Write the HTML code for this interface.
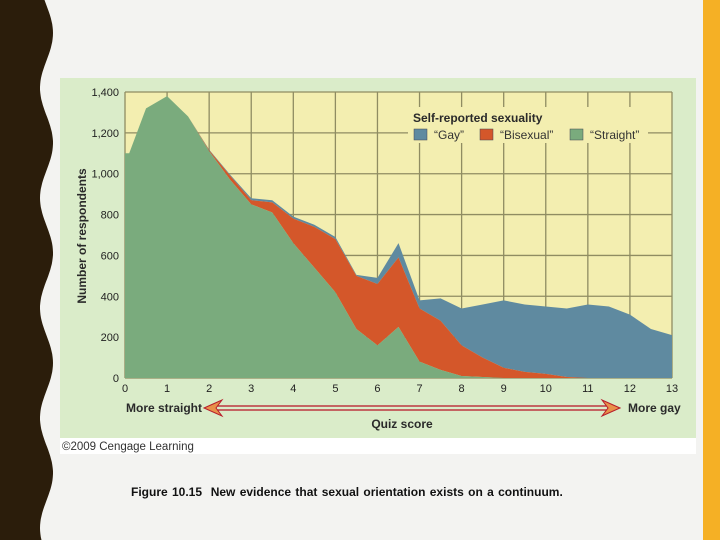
<!DOCTYPE html>
<html><head><meta charset="utf-8"><style>
body{margin:0;width:720px;height:540px;background:#f3f3f1;overflow:hidden;position:relative;font-family:"Liberation Sans",sans-serif}
</style></head><body>
<svg width="60" height="540" style="position:absolute;left:0;top:0">
<path id="wave" fill="#2b1d0b" d=""/>
</svg>
<div style="position:absolute;left:703px;top:0;width:17px;height:540px;background:#f5b025"></div>
<svg id="chart" width="720" height="540" style="position:absolute;left:0;top:0" font-family="Liberation Sans, sans-serif"></svg>
<div style="position:absolute;left:131px;top:485px;font-size:12px;font-weight:bold;color:#111;word-spacing:1px">Figure 10.15&nbsp; New evidence that sexual orientation exists on a continuum.</div>
<script>
(function(){let d='M0,0';for(let y=0;y<=540;y+=3){d+=' L'+(46.5+6.5*Math.cos(2*Math.PI*(y-33)/110)).toFixed(1)+','+y;}d+=' L0,540Z';document.getElementById('wave').setAttribute('d',d);})();
const xs=[0,0.1,0.5,1,1.5,2,2.5,3,3.5,4,4.5,5,5.5,6,6.5,7,7.5,8,8.5,9,9.5,10,10.5,11,11.5,12,12.5,13];
const straight=[1100,1100,1320,1380,1280,1110,970,850,810,660,540,420,240,160,250,80,40,10,5,0,0,0,0,0,0,0,0,0];
const bisexual=[0,0,0,0,0,5,20,20,50,120,200,260,260,300,340,260,240,150,95,50,30,20,5,0,0,0,0,0];
const gay=[0,0,0,0,0,3,5,10,10,10,10,10,5,30,70,40,110,180,260,330,330,330,335,360,350,310,240,210];
const yTicks=[0,200,400,600,800,1000,1200,1400];
const xTicks=[0,1,2,3,4,5,6,7,8,9,10,11,12,13];
const NS='http://www.w3.org/2000/svg';
const svg=document.getElementById('chart');
const X0=125,X1=672,Y0=378,Y1=92;
const sx=v=>X0+(X1-X0)*v/13, sy=v=>Y0-(Y0-Y1)*v/1400;
function mk(t,a,p){const e=document.createElementNS(NS,t);for(const k in a)e.setAttribute(k,a[k]);(p||svg).appendChild(e);return e;}
let e;
e=mk('rect',{x:60,y:78,width:636,height:360,fill:'#daecc9'});

e=mk('rect',{x:60,y:438,width:636,height:16,fill:'#ffffff'});

e=mk('rect',{x:X0,y:Y1,width:X1-X0,height:Y0-Y1,fill:'#f3eeb0'});

yTicks.forEach(v=>{e=mk('line',{x1:X0,x2:X1,y1:sy(v),y2:sy(v),stroke:'#8f8c62','stroke-width':1.3});

e=mk('text',{x:119,y:sy(v)+4,'text-anchor':'end','font-size':11,fill:'#222'});e.textContent=v.toLocaleString('en-US');
});
xTicks.forEach(v=>{e=mk('line',{x1:sx(v),x2:sx(v),y1:Y1,y2:Y0,stroke:'#8f8c62','stroke-width':1.3});

e=mk('text',{x:sx(v),y:392,'text-anchor':'middle','font-size':11,fill:'#222'});e.textContent=v;
});
const c1=straight, c2=straight.map((v,i)=>v+bisexual[i]), c3=c2.map((v,i)=>v+gay[i]);
function area(top,bot,fill,name){let d='M'+xs.map((x,i)=>sx(x)+','+sy(top[i])).join(' L');
for(let i=xs.length-1;i>=0;i--)d+=' L'+sx(xs[i])+','+sy(bot[i]);
e=mk('path',{d:d+'Z',fill:fill});}
const zero=xs.map(()=>0);
area(c3,c2,'#5f8aa0','area-gay');
area(c2,c1,'#d4572a','area-bisexual');
area(c1,zero,'#7aab7d','area-straight');
e=mk('rect',{x:408,y:107,width:240,height:36,fill:'#f3eeb0'});

e=mk('text',{x:413,y:122,'font-size':12,'font-weight':'bold',fill:'#2a2a2a'});e.textContent='Self-reported sexuality';

[['“Gay”','#5f8aa0',414,'legend-entry-gay'],['“Bisexual”','#d4572a',480,'legend-entry-bisexual'],['“Straight”','#7aab7d',570,'legend-entry-straight']].forEach(l=>{
e=mk('rect',{x:l[2],y:129,width:13,height:11,fill:l[1],stroke:'#445','stroke-width':0.5});

e=mk('text',{x:l[2]+20,y:139,'font-size':12,fill:'#333'});e.textContent=l[0];
});
e=mk('text',{x:0,y:0,'font-size':12,'font-weight':'bold',fill:'#2a2a2a','text-anchor':'middle',transform:'translate(86,236) rotate(-90)'});e.textContent='Number of respondents';

e=mk('text',{x:126,y:412,'font-size':12,'font-weight':'bold',fill:'#2a2a2a'});e.textContent='More straight';

e=mk('text',{x:628,y:412,'font-size':12,'font-weight':'bold',fill:'#2a2a2a'});e.textContent='More gay';

e=mk('text',{x:402,y:428,'font-size':12,'font-weight':'bold',fill:'#2a2a2a','text-anchor':'middle'});e.textContent='Quiz score';

e=mk('rect',{x:212,y:406,width:396,height:4,fill:'none',stroke:'#b81c2a','stroke-width':1.3});

e=mk('path',{d:'M204,408 L222,400 L216,408 L222,416Z',fill:'#e8904a',stroke:'#b81c2a','stroke-width':1});

e=mk('path',{d:'M620,408 L602,400 L608,408 L602,416Z',fill:'#e8904a',stroke:'#b81c2a','stroke-width':1});

e=mk('text',{x:62,y:450,'font-size':11.5,fill:'#333'});e.textContent='©2009 Cengage Learning';

</script>
</body></html>
